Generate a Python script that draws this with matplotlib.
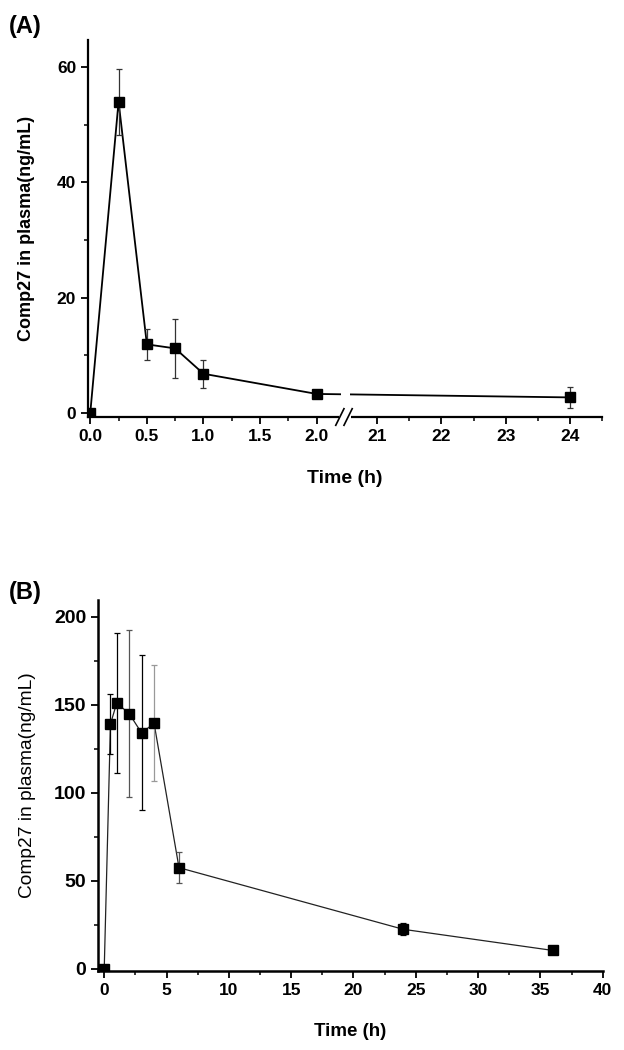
import numpy as np
import matplotlib
matplotlib.use("Agg")
import matplotlib.pyplot as plt
from matplotlib.ticker import FixedLocator, FixedFormatter, MultipleLocator
from matplotlib.patches import Rectangle
from matplotlib.lines import Line2D

plt.rcParams['font.family'] = ['Liberation Sans', 'DejaVu Sans']

# ---------------- data ----------------
time_a = [0, 0.25, 0.5, 0.75, 1.0, 2.0, 24]
conc_a = [0, 54.0, 11.9, 11.2, 6.8, 3.3, 2.7]
err_a = [0, 5.7, 2.7, 5.1, 2.4, 0.5, 1.8]

time_b = [0, 0.5, 1, 2, 3, 4, 6, 24, 36]
conc_b = [0, 139, 151, 145, 134, 139.5, 57.5, 22.5, 10.5]
err_b = [0, 17, 40, 47.5, 44, 33, 8.7, 3.4, 1.8]

xticks_a_major = [0, 0.5, 1.0, 1.5, 2.0, 21, 22, 23, 24]
xticks_a_labels = ["0.0", "0.5", "1.0", "1.5", "2.0", "21", "22", "23", "24"]
xticks_a_minor = [0.25, 0.75, 1.25, 1.75, 21.5, 22.5, 23.5, 24.5]
yticks_a = [0, 20, 40, 60]
yticks_b = [0, 50, 100, 150, 200]
xticks_b = [0, 5, 10, 15, 20, 25, 30, 35, 40]

ylabel = "Comp27 in plasma(ng/mL)"
xlabel = "Time (h)"

# ---------------- figure ----------------
fig = plt.figure(figsize=(6.24, 10.5), dpi=100)

# broken-axis scale for panel A
BREAK_LO, BREAK_HI = 2.25, 20.5
K = (BREAK_LO + 0.02) / (24.5 - BREAK_HI)


def fwd(x):
    x = np.asarray(x, dtype=float)
    return np.where(x <= BREAK_LO, x, BREAK_LO + (x - BREAK_HI) * K)


def inv(y):
    y = np.asarray(y, dtype=float)
    return np.where(y <= BREAK_LO, y, BREAK_HI + (y - BREAK_LO) / K)


def style_axes(ax, lw=1.6):
    for s in ['top', 'right']:
        ax.spines[s].set_visible(False)
    for s in ['left', 'bottom']:
        ax.spines[s].set_linewidth(lw)
    ax.tick_params(which='major', direction='out', length=5, width=1.3)
    ax.tick_params(which='minor', direction='out', length=3, width=1.1)


# ---- Panel A ----
axA = fig.add_axes([88 / 624, 1 - 417 / 1050, (602 - 88) / 624, (417 - 40) / 1050])
axA.set_xscale('function', functions=(fwd, inv))
axA.set_xlim(-0.02, 24.5)
axA.set_ylim(-0.7, 64.7)
style_axes(axA)

axA.plot(time_a, conc_a, color='black', lw=1.3, zorder=2)
# gap in the line at the axis break
axA.add_patch(Rectangle((0.492, 0.02), 0.018, 0.1, transform=axA.transAxes,
                        facecolor='white', edgecolor='none', zorder=3))
axA.errorbar(time_a, conc_a, yerr=err_a, fmt='s', color='black', ms=6.5,
             ecolor='#333333', elinewidth=0.9, capsize=2.5, capthick=0.9, zorder=4)

axA.xaxis.set_major_locator(FixedLocator(xticks_a_major))
axA.xaxis.set_major_formatter(FixedFormatter(xticks_a_labels))
axA.xaxis.set_minor_locator(FixedLocator(xticks_a_minor))
axA.yaxis.set_major_locator(FixedLocator(yticks_a))
axA.yaxis.set_minor_locator(MultipleLocator(10))
for lab in axA.get_xticklabels() + axA.get_yticklabels():
    lab.set_fontweight('bold')
    lab.set_fontsize(12.5)

# break marks "//"
for dx in (-0.012, 0.004):
    axA.add_line(Line2D([0.5 + dx - 0.006, 0.5 + dx + 0.010], [-0.022, 0.022],
                        transform=axA.transAxes, color='black', lw=1.2, clip_on=False, zorder=5))
axA.add_patch(Rectangle((0.489, -0.006), 0.022, 0.012, transform=axA.transAxes,
                        facecolor='white', edgecolor='none', zorder=4, clip_on=False))

axA.set_xlabel(xlabel, fontsize=14, fontweight='bold', labelpad=19)
axA.set_ylabel(ylabel, fontsize=13, fontweight='bold', labelpad=15.5)
fig.text(9 / 624, 1 - 26 / 1050, "(A)", fontsize=17, fontweight='bold', va='center', ha='left')

# ---- Panel B ----
axB = fig.add_axes([98 / 624, 1 - 970.7 / 1050, (602.7 - 98) / 624, (970.7 - 600) / 1050])
axB.set_xlim(-0.5, 40)
axB.set_ylim(-1, 209.5)
style_axes(axB, lw=1.8)

axB.plot(time_b, conc_b, color='#222222', lw=0.9, zorder=2)
err_colors_b = ['black', 'black', 'black', '#555555', 'black', '#999999', '#555555', 'black', 'black']
for t, c, e, col in zip(time_b, conc_b, err_b, err_colors_b):
    axB.errorbar([t], [c], yerr=[e], fmt='none', ecolor=col, elinewidth=0.9,
                 capsize=2.5, capthick=0.9, zorder=3)
axB.plot(time_b, conc_b, 's', color='black', ms=6.5, zorder=4)

axB.xaxis.set_major_locator(FixedLocator(xticks_b))
axB.xaxis.set_minor_locator(MultipleLocator(2.5))
axB.yaxis.set_major_locator(FixedLocator(yticks_b))
axB.yaxis.set_minor_locator(MultipleLocator(25))
for lab in axB.get_xticklabels():
    lab.set_fontweight('bold')
    lab.set_fontsize(12.5)
for lab in axB.get_yticklabels():
    lab.set_fontweight('bold')
    lab.set_fontsize(14)

axB.set_xlabel(xlabel, fontsize=13.5, fontweight='bold', labelpad=18)
axB.set_ylabel(ylabel, fontsize=13.8, labelpad=12.5)
fig.text(9 / 624, 1 - 592 / 1050, "(B)", fontsize=17, fontweight='bold', va='center', ha='left')

fig.savefig("out.png", dpi=100)
